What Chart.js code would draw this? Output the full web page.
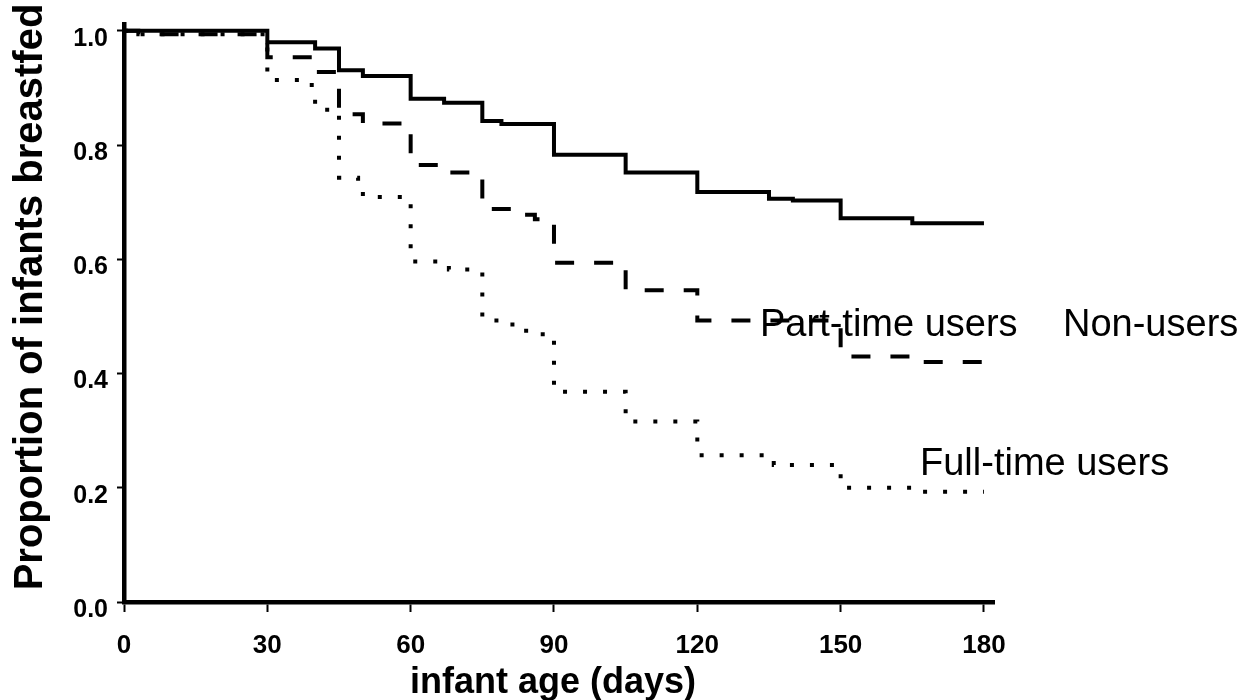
<!DOCTYPE html>
<html>
<head>
<meta charset="utf-8">
<script src="https://cdn.jsdelivr.net/npm/chart.js@4.4.0/dist/chart.umd.min.js"></script>
<style>
  html, body { margin: 0; padding: 0; background: #fff; }
  #wrap { width: 1260px; height: 700px; position: relative; }
</style>
</head>
<body>
<div id="wrap"><canvas id="km"></canvas></div>
<script>
// Kaplan-Meier steps: day where the step starts, proportion still breastfed from that day
const nonUsersDays = [0, 30, 40, 45, 50, 60, 67, 75, 79, 90, 105, 120, 135, 140, 150, 165, 180];
const nonUsersProp = [1.0, 0.980, 0.969, 0.931, 0.921, 0.881, 0.874, 0.842, 0.837, 0.783, 0.752, 0.718, 0.706, 0.703, 0.672, 0.663, 0.663];

const partTimeDays = [0, 3, 30, 40, 45, 50, 60, 68, 75, 82, 86, 90, 105, 120, 150, 165, 180];
const partTimeProp = [1.0, 0.994, 0.954, 0.928, 0.854, 0.838, 0.765, 0.752, 0.688, 0.678, 0.670, 0.594, 0.546, 0.493, 0.430, 0.420, 0.420];

const fullTimeDays = [0, 3, 30, 37, 40, 45, 49, 50, 60, 68, 75, 80, 83, 87, 90, 105, 120, 136, 150, 165, 180];
const fullTimeProp = [1.0, 0.994, 0.914, 0.905, 0.862, 0.743, 0.730, 0.709, 0.596, 0.582, 0.493, 0.486, 0.475, 0.469, 0.368, 0.316, 0.257, 0.240, 0.200, 0.193, 0.193];

const xTicks = [0, 30, 60, 90, 120, 150, 180];
const yTicks = [0, 0.2, 0.4, 0.6, 0.8, 1.0];

const FONT = '"Liberation Sans", Arial, Helvetica, sans-serif';

function toPoints(days, props) {
  return days.map((d, i) => ({ x: d, y: props[i] }));
}

// labels and axis titles drawn straight on the canvas
const textPlugin = {
  id: 'kmText',
  afterDraw(chart) {
    const ctx = chart.ctx;
    ctx.save();
    ctx.fillStyle = '#000';

    ctx.font = '38px ' + FONT;
    ctx.textAlign = 'left';
    ctx.textBaseline = 'alphabetic';
    ctx.fillText('Part-time users', 760, 336);
    ctx.fillText('Non-users', 1063, 336);
    ctx.fillText('Full-time users', 920, 475);

    ctx.font = 'bold 36px ' + FONT;
    ctx.textAlign = 'center';
    ctx.fillText('infant age (days)', 553, 693);

    ctx.translate(42, 297);
    ctx.rotate(-Math.PI / 2);
    ctx.font = 'bold 40px ' + FONT;
    ctx.fillText('Proportion of infants breastfed', 0, 0);
    ctx.restore();
  }
};

const lineBase = {
  borderColor: '#000',
  borderWidth: 4,
  pointRadius: 0,
  fill: false,
  stepped: 'before',
  borderCapStyle: 'butt',
  borderJoinStyle: 'miter'
};

new Chart(document.getElementById('km'), {
  type: 'line',
  data: {
    datasets: [
      { ...lineBase, label: 'Non-users', data: toPoints(nonUsersDays, nonUsersProp) },
      { ...lineBase, label: 'Part-time users', data: toPoints(partTimeDays, partTimeProp), borderDash: [19, 20] },
      { ...lineBase, label: 'Full-time users', data: toPoints(fullTimeDays, fullTimeProp), borderDash: [4, 16] }
    ]
  },
  options: {
    responsive: true,
    maintainAspectRatio: false,
    animation: false,
    layout: { padding: { left: 0, top: 13, right: 266, bottom: 0 } },
    plugins: {
      legend: { display: false },
      tooltip: { enabled: false }
    },
    scales: {
      x: {
        type: 'linear',
        min: 0,
        max: 182.1,
        afterBuildTicks: s => { s.ticks = xTicks.map(v => ({ value: v })); },
        afterFit: s => { s.height = 98; },
        border: { display: true, color: '#000', width: 4.5 },
        grid: { drawOnChartArea: false, drawTicks: true, tickLength: 10, tickWidth: 2, tickColor: '#000' },
        ticks: {
          color: '#000',
          padding: 18,
          maxRotation: 0,
          font: { family: FONT, size: 26, weight: 'bold' },
          callback: v => String(v)
        }
      },
      y: {
        min: 0,
        max: 1.012,
        afterBuildTicks: s => { s.ticks = yTicks.map(v => ({ value: v })); },
        afterFit: s => { s.width = 124; },
        border: { display: true, color: '#000', width: 4.5 },
        grid: { drawOnChartArea: false, drawTicks: true, tickLength: 7, tickWidth: 2, tickColor: '#000' },
        ticks: {
          color: '#000',
          padding: 9,
          labelOffset: 8,
          font: { family: FONT, size: 25, weight: 'bold' },
          callback: v => v.toFixed(1)
        }
      }
    }
  },
  plugins: [textPlugin]
});
</script>
</body>
</html>
